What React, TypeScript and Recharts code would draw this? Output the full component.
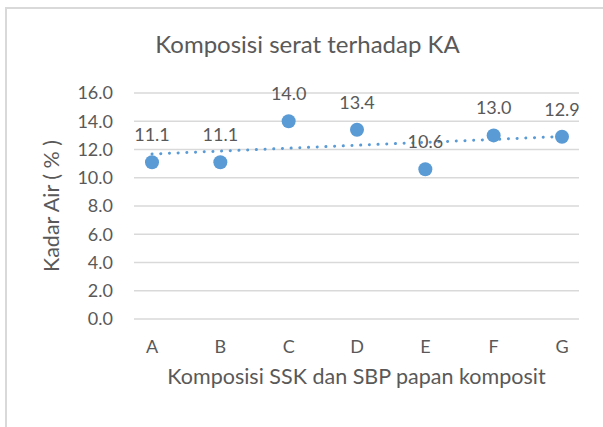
import React from "react";
import { ComposedChart, Line, XAxis, YAxis, CartesianGrid, LabelList, Label } from "recharts";

const BLUE = "#5B9BD5";
const TEXT = "#595959";
const GRID = "#D9D9D9";
const FONT = "Lato, 'Open Sans', sans-serif";

const categories = ["A", "B", "C", "D", "E", "F", "G"];
const kadarAir = [11.1, 11.1, 14.0, 13.4, 10.6, 13.0, 12.9];
const yTicks = [0, 2, 4, 6, 8, 10, 12, 14, 16];

// linear trendline (least squares) like Excel's
const n = kadarAir.length;
const xMean = (n + 1) / 2;
const yMean = kadarAir.reduce((s, v) => s + v, 0) / n;
const slope =
  kadarAir.reduce((s, v, i) => s + (i + 1 - xMean) * (v - yMean), 0) /
  kadarAir.reduce((s, _, i) => s + (i + 1 - xMean) ** 2, 0);

const data = categories.map((cat, i) => ({
  cat,
  ka: kadarAir[i],
  trend: yMean + slope * (i + 1 - xMean),
}));

export default function App() {
  return (
    <div style={{ position: "absolute", left: 0, top: 0, width: 603, height: 427, background: "#fff", overflow: "hidden", fontFamily: FONT }}>
      <div style={{ position: "absolute", left: 5, top: 7, width: 700, height: 500, borderLeft: "2px solid #D9D9D9", borderTop: "2px solid #D9D9D9" }} />
      <div style={{ position: "absolute", left: 0, width: 615, top: 29, textAlign: "center", color: TEXT, fontSize: 24 }}>
        Komposisi serat terhadap KA
      </div>
      <div style={{ position: "absolute", left: 0, top: 0 }}>
        <ComposedChart width={603} height={427} data={data} margin={{ top: 93, right: 24, bottom: 0, left: 0 }}>
          <CartesianGrid vertical={false} stroke={GRID} strokeWidth={1.5} />
          <XAxis
            dataKey="cat"
            axisLine={false}
            tickLine={false}
            padding={{ left: 18, right: 17 }}
            height={108}
            tickMargin={15}
            tick={{ fill: TEXT, fontSize: 18, fontFamily: FONT }}
          >
            <Label value="Komposisi SSK dan SBP papan komposit" position="insideTop" offset={50} fill={TEXT} fontSize={21.5} fontFamily={FONT} />
          </XAxis>
          <YAxis
            domain={[0, 16]}
            ticks={yTicks}
            interval={0}
            width={134}
            axisLine={false}
            tickLine={false}
            tickMargin={15}
            tickFormatter={(v: number) => v.toFixed(1)}
            tick={{ fill: TEXT, fontSize: 18, fontFamily: FONT }}
          >
            <Label value="Kadar Air ( % )" angle={-90} position="insideLeft" offset={51} fill={TEXT} fontSize={21.5} fontFamily={FONT} style={{ textAnchor: "middle" }} />
          </YAxis>
          <Line
            dataKey="trend"
            stroke={BLUE}
            strokeWidth={3}
            strokeDasharray="0.1 8.6"
            strokeLinecap="round"
            dot={false}
            activeDot={false}
            isAnimationActive={false}
          />
          <Line
            dataKey="ka"
            stroke="none"
            dot={{ r: 7, fill: BLUE, stroke: BLUE, strokeWidth: 0 }}
            activeDot={false}
            isAnimationActive={false}
          >
            <LabelList dataKey="ka" position="top" offset={21} fill={TEXT} fontSize={18} fontFamily={FONT} formatter={(v: number) => v.toFixed(1)} />
          </Line>
        </ComposedChart>
      </div>
    </div>
  );
}
